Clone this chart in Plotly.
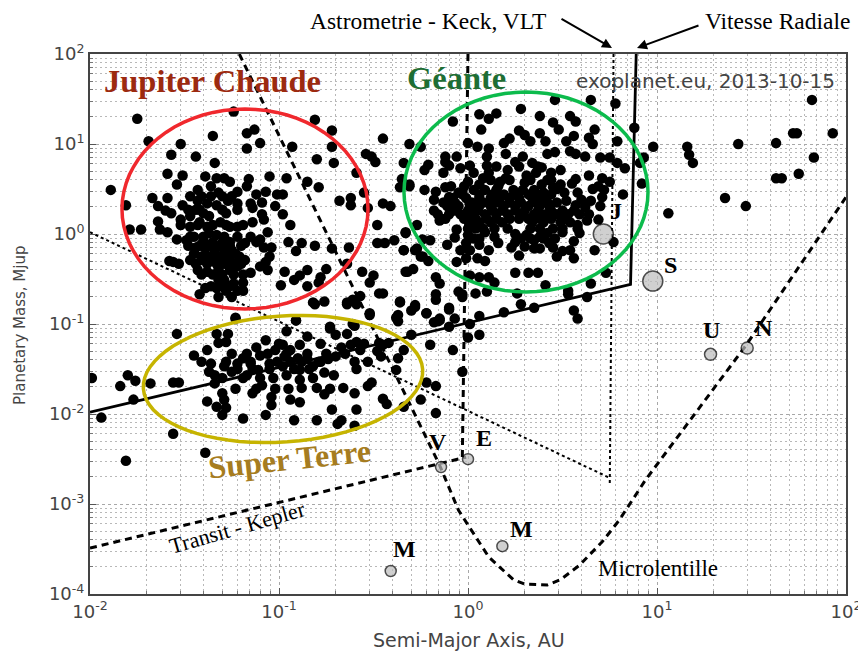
import math
import plotly.graph_objects as go

# (log10 semi-major axis [AU], log10 mass [Mjup])
hot_jupiters = [(-1.75,1.28),(-1.24,1.36),(-1.69,1.03),(-1.35,1.09),(-1.17,1.12),(-1.13,1.16),(-1.10,1.01),(-1.17,.95),(-1.52,1.0),(-1.57,.88),(-1.44,.86),(-1.34,.79),(-1.59,.67),(-1.51,.65),(-1.54,.55),(-1.89,.49),(-1.81,.32),(-1.67,.40),(-1.59,.40),(-1.64,.31),(-1.51,.32),(-1.60,.26),(-1.57,.23),(-1.64,.14),(-1.79,.05),(-1.73,.05),(-1.63,.05),(-1.59,.02),(-1.54,-.06),(-1.49,-.07),(-1.47,.20),(-1.52,.16),(-1.39,.64),(-1.33,.62),(-1.29,.62),(-1.26,.58),(-1.43,.49),(-1.36,.53),(-1.32,.46),(-1.22,.47),(-1.16,.61),(-1.17,.53),(-1.12,.44),(-1.07,.47),(-1.05,.64),(-.96,.62),(-.85,.58),(-.79,.52),(-1.01,.44),(-.98,.44),(-1.15,.34),(-1.09,.35),(-1.14,.29),(-1.02,.31),(-.98,.22),(-.94,.10),(-1.09,.22),(-1.08,.16),(-1.14,.13),(-1.22,.34),(-1.27,.37),(-1.43,.37),(-1.38,.34),(-1.33,.32),(-1.28,.23),(-1.40,.23),(-1.37,.20),(-1.42,.13),(-1.47,.08),(-1.38,.08),(-1.31,.13),(-1.26,.08),(-1.22,.08),(-1.06,.02),(-1.10,-.06),(-1.12,-.09),(-1.18,-.10),(-1.08,-.15),(-1.04,-.15),(-1.05,-.25),(-1.07,-.31),(-1.10,-.36),(-1.06,-.40),(-1.15,-.43),(-.95,-.09),(-.88,-.10),(-.91,-.19),(-.81,-.13),(-.72,-.16),(-.63,-.15),(-.64,-.33),(-.75,-.39),(-.85,-.40),(-.89,-.46),(-.97,-.42),(-.92,-.51),(-.99,-.57),(-.85,-.58),(-.78,-.48),(-.79,-.54)]
hot_core = [(-1.37,.01),(-1.33,-.01),(-1.29,-.03),(-1.40,-.07),(-1.35,-.09),(-1.30,-.10),(-1.26,-.09),(-1.44,-.15),(-1.39,-.16),(-1.34,-.18),(-1.29,-.18),(-1.25,-.18),(-1.45,-.22),(-1.41,-.25),(-1.37,-.25),(-1.32,-.25),(-1.28,-.25),(-1.23,-.22),(-1.21,-.25),(-1.44,-.33),(-1.38,-.33),(-1.33,-.33),(-1.29,-.33),(-1.24,-.33),(-1.20,-.33),(-1.43,-.40),(-1.38,-.42),(-1.32,-.39),(-1.26,-.40),(-1.22,-.36),(-1.56,-.31),(-1.58,-.30),(-1.53,-.33),(-1.32,-.51),(-1.29,-.51),(-1.24,-.55),(-1.19,-.54),(-1.33,-.60),(-1.39,-.60),(-1.42,-.67),(-1.32,-.70),(-1.25,-.70),(-1.19,-.63),(-1.28,-.63),(-1.22,-.63)]
hot_fill = [(-1.47,.42),(-1.41,.42),(-1.36,.42),(-1.30,.42),(-1.25,.42),(-1.48,.27),(-1.42,.27),(-1.30,.27),(-1.22,.27),(-1.44,.27),(-1.52,.10),(-1.43,.10),(-1.35,.10),(-1.28,.10),(-1.19,.10),(-1.45,-.03),(-1.40,-.03),(-1.22,-.03),(-1.15,-.03),(-1.47,-.03),(-1.48,-.13),(-1.42,-.13),(-1.37,-.13),(-1.31,-.13),(-1.26,-.13),(-1.20,-.13),(-1.47,-.29),(-1.41,-.29),(-1.36,-.29),(-1.30,-.29),(-1.26,-.29),(-1.18,-.29),(-1.41,-.45),(-1.35,-.45),(-1.30,-.45),(-1.24,-.45),(-1.19,-.45),(-1.36,-.58),(-1.30,-.58),(-1.26,-.58)]
middle_field = [(-.56,-.42),(-.50,-.46),(-.52,-.54),(-.68,.37),(-.62,.40),(-.62,.32),(-.55,.46),(-.59,.68),(-.53,.29),(-.45,.34),(-.41,.31),(-.48,.10),(-.33,.02),(-.48,-.10),(-.44,-.10),(-.39,-.07),(-.34,-.18),(-.27,-.16),(-.24,-.25),(-.33,-.42),(-.29,-.39),(-.17,-.48),(-.15,-.55),(-.17,-.67),(-.17,-.73),(-.81,1.27),(-.72,1.15),(-.72,.97),(-.80,.83),(-.71,.79),(-.93,.97),(-.54,.89),(-.51,.86),(-.49,.80),(-.45,1.06),(-.31,1.0),(-.25,.97),(-.34,.79),(-.35,.61),(-.31,.55),(-.36,.52),(-.82,-.76),(-.76,-.75),(-.64,-.76),(-.61,-.73),(-.57,-.69),(-.59,-.78),(-.45,-.66),(-.47,-.66),(-.36,-.76),(-.28,-.79),(-.30,-.85),(-.22,-.88),(-.10,-.84),(-.03,-.67),(-.52,-.90),(-.38,-.93),(-.37,-.97),(-1.23,-.93),(-.91,-.96),(-.61,-1.0),(-.73,-1.03),(-.16,-.97),(-.10,-1.03)]
giants = [(.46,1.49),(.65,1.49),(.78,1.45),(.28,1.39),(.06,1.33),(.11,1.28),(.15,1.34),(.38,1.31),(-.08,1.25),(.45,1.24),(.54,1.31),(.57,1.25),(.48,1.16),(.67,1.16),(.07,1.16),(.88,1.18),(.27,1.15),(.30,1.10),(.33,1.03),(.38,1.12),(.41,1.03),(.56,1.09),(.52,1.03),(.64,1.07),(.66,1.0),(.79,1.03),(.22,1.06),(.19,1.01),(0,1.01),(.05,.97),(.11,.95),(.54,.92),(.57,.89),(.46,.91),(.42,.89),(.62,.86),(.70,.85),(.75,.85),(.79,.79),(.83,.73),(.93,.85),(.91,.79),(.20,.89),(.10,.86),(.29,.86),(.25,.80),(.34,.79),(.39,.74),(-.12,.86),(-.06,.86),(-.12,.80),(-.10,.76),(-.04,.73),(.01,.76),(.10,.76),(-.21,.77),(-.23,.71),(-.13,.68),(.21,.71),(.31,.65),(.44,.68),(.49,.71),(.08,.62),(.11,.68),(.17,.58),(0,.58),(-.31,.53),(-.23,.49),(-.17,.47),(-.12,.52),(-.09,.53),(-.10,.41),(-.05,.46),(.57,.61),(.64,.65),(.55,.56),(.71,.62),(.75,.58),(.69,.53),(.72,.49),(.71,.41),(.92,.56),(.82,.44),(.49,.55),(.51,.46),(.52,.37),(.39,.55),(.40,.46)]
giants_band = [(.03,.49),(.09,.49),(.15,.49),(.24,.49),(.29,.49),(.35,.49),(-.08,.40),(-.01,.40),(.06,.40),(.12,.40),(.17,.40),(.22,.40),(.27,.40),(.34,.40),(.40,.40),(-.11,.31),(-.05,.31),(.01,.31),(.06,.31),(.12,.31),(.19,.31),(.25,.31),(.32,.31),(.38,.31),(.43,.31),(-.16,.22),(-.10,.22),(-.04,.22),(.02,.22),(.09,.22),(.15,.22),(.21,.22),(.28,.22),(.35,.22),(.41,.22),(.47,.22),(.53,.22),(.59,.22),(.01,.13),(.06,.13),(.12,.13),(.18,.13),(.34,.13),(.40,.13),(.49,.13),(.54,.13),(.65,.37),(.70,.31),(.57,.32),(.69,.16)]
giants_fill = [(-.03,.44),(.06,.44),(.13,.44),(.19,.44),(.26,.44),(.32,.44),(.37,.44),(.44,.44),(-.13,.35),(-.07,.35),(.02,.35),(.08,.35),(.15,.35),(.22,.35),(.28,.35),(.36,.35),(.42,.35),(.47,.35),(-.18,.26),(-.07,.26),(0,.26),(.05,.26),(.13,.26),(.18,.26),(.25,.26),(.30,.26),(.37,.26),(.44,.26),(.50,.26),(.56,.26),(-.12,.17),(-.02,.17),(.04,.17),(.10,.17),(.15,.17),(.22,.17),(.27,.17),(.32,.17),(.38,.17),(.44,.17),(.51,.17),(0,.06),(.04,.06),(.08,.06),(.14,.06),(.21,.06),(.33,.06),(.38,.06),(.45,.06),(.50,.06),(.58,.06),(.03,-.05),(.06,-.05),(.28,-.05),(.33,-.05),(.40,-.05),(.46,-.05),(.12,.60),(.22,.60),(.33,.60),(.44,.60),(.15,.75),(.27,.75),(.37,.75)]
giants_extra = [(-.02,.53),(.06,.55),(.16,.53),(.30,.57),(.42,.60),(.47,.50),(.58,.46),(.60,.38),(.66,.50),(.03,.68),(.20,.62),(.36,.68),(.45,.52),(.62,.30),(.64,.22),(.58,.10),(.63,.15),(-.18,.38),(-.15,.15),(-.06,.05),(.25,.0),(.16,-.1),(.30,-.14),(.43,-.1),(.56,-.08),(-.11,-.12),(.06,-.12)]
giants_low = [(-.27,.10),(-.33,.01),(-.20,-.07),(-.24,-.06),(-.07,-.04),(0,-.01),(-.01,-.10),(.09,.02),(.14,-.03),(.25,-.09),(.31,-.01),(.35,-.07),(.38,-.03),(.42,.01),(.50,.02),(.59,.01),(.23,-.15),(.27,-.24),(.35,-.16),(.38,-.16),(.45,-.15),(.50,-.19),(.47,-.25),(.54,-.18),(.56,-.27),(.67,-.18),(.77,-.09),(-.04,-.18),(.01,-.18),(-.06,-.31),(-.01,-.27),(.05,-.27),(.09,-.30),(.11,-.18),(-.34,-.18),(-.28,-.18),(-.25,-.25),(-.21,-.30),(-.32,-.42),(.25,-.43),(.32,-.43),(.37,-.43),(.73,-.43),(.01,-.46),(.06,-.48),(.11,-.48),(.14,-.54),(.41,-.57),(.65,-.55),(-.05,-.64),(-.03,-.70),(.04,-.66),(.10,-.64),(.26,-.66),(.53,-.63),(.53,-.67),(.63,-.70),(.28,-.78),(.35,-.82),(.19,-.87),(.56,-.85),(.58,-.94),(.06,-.91),(.01,-1.0),(-.15,-.94),(-.07,-.94),(-.36,-.75)]
far_out = [(.98,.97),(1.16,.97),(1.17,.88),(1.19,.79),(1.43,1.0),(1.63,1.01),(1.72,1.12),(1.74,1.12),(1.93,1.12),(1.82,1.49),(1.83,.85),(1.75,.67),(1.63,.62),(1.66,.62),(1.36,.40),(1.47,.31),(1.06,.23)]
super_earths = [(-1.99,-1.60),(-1.80,-1.57),(-1.76,-1.63),(-1.84,-1.69),(-1.68,-1.66),(-1.77,-1.84),(-1.94,-2.04),(-1.81,-2.52),(-1.56,-2.22),(-1.39,-2.43),(-1.54,-1.11),(-1.56,-1.65),(-1.53,-1.65),(-1.45,-1.35),(-1.38,-1.29),(-1.23,-.94),(-1.33,-1.11),(-1.27,-1.11),(-1.32,-1.21),(-1.28,-1.20),(-1.25,-1.33),(-1.41,-1.42),(-1.36,-1.44),(-1.37,-1.53),(-1.34,-1.57),(-1.29,-1.47),(-1.34,-1.66),(-1.30,-1.77),(-1.29,-1.84),(-1.38,-1.86),(-1.33,-1.92),(-1.28,-1.93),(-1.30,-2.01),(-1.19,-2.05),(-1.07,-2.01),(-1.23,-1.72),(-1.25,-1.53),(-1.22,-1.44),(-1.19,-1.38),(-1.15,-1.44),(-1.19,-1.60),(-1.17,-1.57),(-1.11,-1.51),(-1.10,-1.60),(-1.09,-1.68),(-1.12,-1.72),(-1.14,-1.77),(-1.02,-1.72),(-1.04,-1.81),(-1.04,-1.90),(-.94,-1.84),(-.89,-1.87),(-.95,-1.72),(-.88,-1.71),(-.80,-1.71),(-.76,-1.78),(-.73,-1.72),(-.66,-1.71),(-.60,-1.77),(-.53,-1.69),(-.51,-1.65),(-.72,-1.95),(-.59,-1.95),(-.45,-1.83),(-.43,-1.89),(-.34,-1.92),(-.92,-2.07),(-.80,-2.07),(-.69,-2.11),(-.67,-2.07),(-.60,-2.13),(-.25,-1.84),(-.22,-1.65),(-.17,-1.69),(-.17,-1.99),(-.03,-1.53),(-.08,-1.29),(-.20,-1.23),(-.30,-1.12),(0,-1.15),(.06,-1.12)]
super_earth_band = [(-1.12,-1.26),(-1.07,-1.18),(-1.10,-1.35),(-1.02,-1.29),(-.98,-1.23),(-.96,-1.08),(-.91,-.96),(-.89,-1.23),(-.94,-1.29),(-.97,-1.36),(-1.01,-1.42),(-1.05,-1.44),(-.98,-1.47),(-.94,-1.42),(-.90,-1.38),(-.96,-1.57),(-.89,-1.62),(-.89,-1.51),(-.82,-1.47),(-.85,-1.39),(-.79,-1.42),(-.74,-1.39),(-.70,-1.36),(-.85,-1.14),(-.76,-1.54),(-.71,-1.57),(-.73,-1.05),(-.70,-1.12),(-.64,-1.11),(-.60,-1.02),(-.59,-1.20),(-.67,-1.26),(-.62,-1.23),(-.57,-1.29),(-.60,-1.42),(-.59,-1.50),(-.53,-1.42),(-.52,-.88),(-.47,-1.21),(-.48,-1.30),(-.45,-1.23),(-.42,-1.21),(-.46,-1.36),(-.34,-1.29),(-.37,-1.38),(-.38,-1.51),(-.81,-.78),(-.64,-.78),(-.37,-.90),(-.28,-.81),(-.22,-.88),(-.10,-.82),(-.18,-.98),(-.15,-.96)]
super_earth_fill = [(-1.22,-1.5),(-1.14,-1.5),(-1.05,-1.5),(-.92,-1.5),(-.84,-1.5),(-1.17,-1.33),(-1.06,-1.33),(-.96,-1.33),(-.85,-1.33),(-.75,-1.33),(-.65,-1.33),(-1.0,-1.22),(-.78,-1.22),(-.55,-1.22),(-1.28,-1.42),(-1.15,-1.42),(-.88,-1.42),(-.78,-1.42),(-1.3,-1.6),(-1.03,-1.6),(-.82,-1.6)]

# detection limits (log10 a, log10 m)
rv_limit = [(-2,-1.98),(.86,-.56),(.89,2)]
astrometry_keck = [(0,2),(-.03,-2.48)]
astrometry_vlt = [(.77,2),(.75,-2.79)]
astrometry_diag = [(-2,.02),(.75,-2.71)]
transit_kepler = [(-2,-3.49),(-.01,-2.48)]
microlensing = [(-1.21,2),(-.15,-2.57),(-.05,-3.07),(.04,-3.37),(.11,-3.59),(.24,-3.84),(.30,-3.89),(.42,-3.90),(.49,-3.84),(.59,-3.68),(.71,-3.42),(.80,-3.18),(.94,-2.73),(1.47,-1.24),(2,.41)]

# solar system planets
planet_a = [0.39, 0.72, 1.0, 1.52, 5.2, 9.5, 19.2, 30.0]
planet_m = [0.00018, 0.00257, 0.00315, 0.00034, 1.0, 0.30, 0.046, 0.054]
planet_size = [11, 11, 11, 11, 20, 20, 12, 12]

exo_groups = [hot_jupiters, hot_core, hot_fill, middle_field, giants, giants_band, giants_fill, giants_extra, giants_low,
              far_out, super_earths, super_earth_band, super_earth_fill]
points = [p for g in exo_groups for p in g]

def unlog(rows):
    return [10 ** a for a, _ in rows], [10 ** m for _, m in rows]

# The page has an 8px body margin, so the figure is sized to fit inside it.
PAGE = 8
L, R, T, B = 90, 846, 54, 594
def px(x): return (x - L) / (R - L)
def py(y): return (B - y) / (B - T)

fig = go.Figure()

def limit(rows, dash, width):
    xs, ys = unlog(rows)
    fig.add_trace(go.Scatter(x=xs, y=ys, mode="lines", showlegend=False, hoverinfo="skip",
                             line=dict(color="black", width=width, dash=dash)))

limit(astrometry_diag, "dot", 2)
limit(astrometry_vlt, "dot", 2)
limit(astrometry_keck, "7px,5px", 3)
limit(microlensing, "7px,5px", 3)
limit(transit_kepler, "7px,5px", 3)
limit(rv_limit, "solid", 2.8)

xs, ys = unlog(points)
fig.add_trace(go.Scatter(x=xs, y=ys, mode="markers", showlegend=False,
                         marker=dict(color="black", size=10.5, line=dict(width=0))))
fig.add_trace(go.Scatter(x=planet_a, y=planet_m, mode="markers", showlegend=False,
                         marker=dict(color="#bdbdbd", size=planet_size, line=dict(color="black", width=1.5))))

def ellipse(cx, cy, rx, ry, deg, color):
    t = math.radians(deg)
    parts = []
    for i in range(73):
        a = 2 * math.pi * i / 72
        x = cx + rx * math.cos(a) * math.cos(t) + ry * math.sin(a) * math.sin(t)
        y = cy - rx * math.cos(a) * math.sin(t) + ry * math.sin(a) * math.cos(t)
        parts.append(("M" if i == 0 else "L") + f"{px(x):.4f},{py(y):.4f}")
    fig.add_shape(type="path", path=" ".join(parts) + " Z", xref="paper", yref="paper",
                  line=dict(color=color, width=3.5))

ellipse(245, 209, 123, 100, 0, "#f0282d")
ellipse(526, 192, 122, 100, 0, "#0cbb4c")
ellipse(283, 379, 140, 63, 4, "#c6b400")

SERIF = "Liberation Serif"
def label(x, y, text, size, color="black", bold=False, angle=0, family=SERIF):
    fig.add_annotation(x=px(x), y=py(y), xref="paper", yref="paper", text=f"<b>{text}</b>" if bold else text,
                       showarrow=False, textangle=angle, xanchor="center", yanchor="middle",
                       font=dict(family=family, size=size, color=color))

label(212, 81, "Jupiter Chaude", 32.5, "#9c2a10", True)
label(456, 78, "Géante", 32.5, "#1e6e34", True)
label(289, 459, "Super Terre", 32, "#a67c20", True, -6)
label(705, 81, "exoplanet.eu, 2013-10-15", 20, "#444444", family="DejaVu Sans")
label(237, 527, "Transit - Kepler", 22, "black", False, -16)
label(658, 568, "Microlentille", 23)
label(428, 21, "Astrometrie - Keck, VLT", 23.5)
label(777, 21, "Vitesse Radiale", 23.5)
for x, y, t in [(616, 211, "J"), (670, 265, "S"), (711, 330, "U"), (764, 328, "N"),
                (438, 442, "V"), (484, 438, "E"), (404, 549, "M"), (521, 529, "M")]:
    label(x, y, t, 24, bold=True)

for hx, hy, tx, ty in [(612, 48, 560, 18), (637, 48, 700, 25)]:
    fig.add_annotation(x=px(hx), y=py(hy), xref="paper", yref="paper", ax=tx - hx, ay=ty - hy,
                       axref="pixel", ayref="pixel", text="", showarrow=True,
                       arrowhead=2, arrowwidth=2, arrowsize=1, arrowcolor="black")

label(469, 640, "Semi-Major Axis, AU", 19, "#444444", family="DejaVu Sans")
label(20, 326, "Planetary Mass, Mjup", 15, "#444444", angle=-90, family="DejaVu Sans")

xt = [1e-2, 1e-1, 1e0, 1e1, 1e2]
xl = ["10<sup>-2</sup>", "10<sup>-1</sup>", "10<sup>0</sup>", "10<sup>1</sup>", "10<sup>2</sup>"]
yt = [1e-4, 1e-3, 1e-2, 1e-1, 1e0, 1e1, 1e2]
yl = ["10<sup>-4</sup>", "10<sup>-3</sup>", "10<sup>-2</sup>", "10<sup>-1</sup>", "10<sup>0</sup>", "10<sup>1</sup>", "10<sup>2</sup>"]

def axis(rng, vals, text):
    minor = [k * 10 ** d for d in range(rng[0], rng[1]) for k in range(2, 10)]
    return dict(type="log", range=rng, tickmode="array", tickvals=vals, ticktext=text,
                ticks="inside", ticklen=6, tickcolor="#555555", showline=True, linecolor="#444444",
                linewidth=2, mirror=True, showgrid=True, gridcolor="#a8a8a8", griddash="3px,3px", gridwidth=1,
                zeroline=False, automargin=False, ticklabeloverflow="allow",
                tickfont=dict(family="DejaVu Sans", size=18, color="#444444"),
                minor=dict(tickmode="array", tickvals=minor, ticks="inside", ticklen=3, tickcolor="#777777",
                           showgrid=True, gridcolor="#b8b8b8", griddash="2px,3px", gridwidth=1))

fig.update_layout(width=866 - PAGE, height=654 - PAGE, autosize=False, plot_bgcolor="white", paper_bgcolor="white",
                  showlegend=False, margin=dict(l=L - PAGE, r=866 - R, t=T - PAGE, b=654 - B),
                  xaxis=axis([-2, 2], xt, xl), yaxis=axis([-4, 2], yt, yl))
fig.write_html("out.html")
